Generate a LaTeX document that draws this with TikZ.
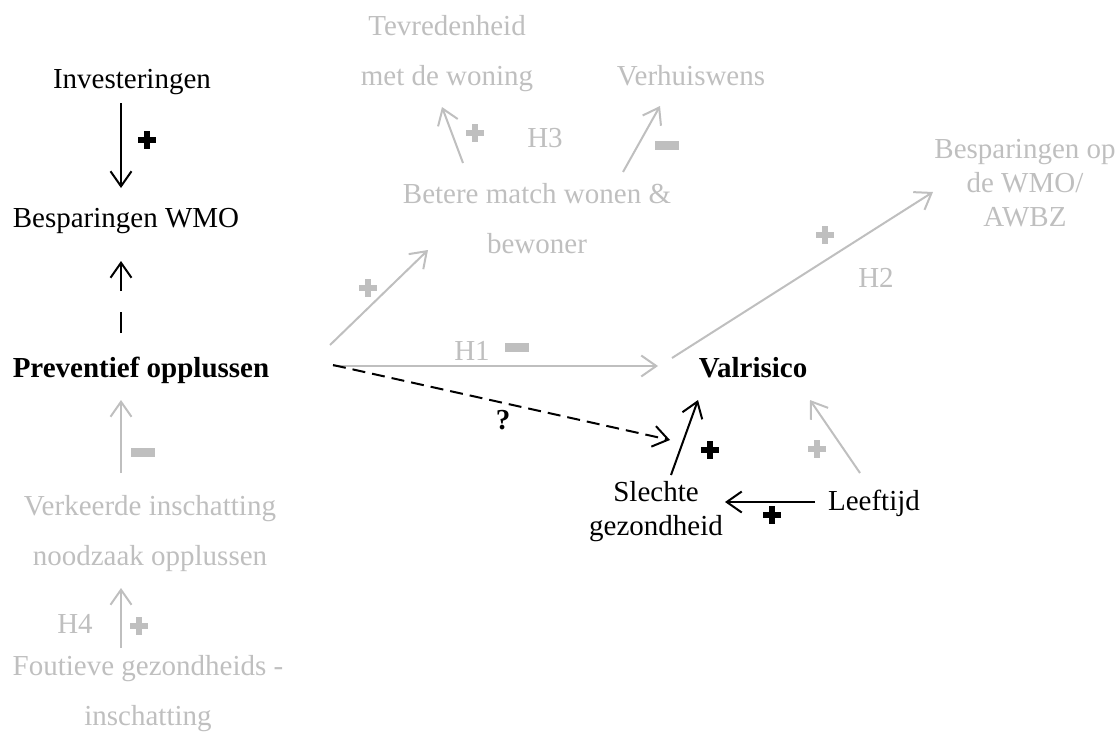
\documentclass[tikz,border=0pt]{standalone}
\usepackage{fontspec}
\setmainfont{Liberation Serif}
\usetikzlibrary{arrows.meta}
\definecolor{lg}{RGB}{191,191,191}
\begin{document}
\begin{tikzpicture}[x=1pt,y=-1pt,
  lbl/.style={inner sep=0pt, anchor=base, align=center, font=\fontsize{29}{50}\selectfont},
  lblg/.style={lbl, text=lg},
  tight/.style={font=\fontsize{29}{34}\selectfont},
  arr/.style={line width=2pt, -{Straight Barb[length=15pt,width=21pt]}},
  arrb/.style={arr, black},
  arrg/.style={arr, lg},
  dsh/.style={dash pattern=on 13pt off 7pt},
  plusmark/.pic={\fill (-9,-3) rectangle (9,3); \fill (-3,-9) rectangle (3,9);},
  minusmark/.pic={\fill (-12,-4.5) rectangle (12,4.5);}
]
\useasboundingbox (0,0) rectangle (1119,731);

% nodes (black); multi-line nodes are placed by the baseline of their last line
\node[lbl] (inv) at (132,88) {Investeringen};
\node[lbl] (wmo) at (126,227) {Besparingen WMO};
\node[lbl, font=\fontsize{29}{50}\selectfont\bfseries] (prev) at (141,377) {Preventief opplussen};
\node[lbl, font=\fontsize{29}{50}\selectfont\bfseries] (val) at (753,377) {Valrisico};
\node[lbl, tight] (slecht) at (656,535) {Slechte\\gezondheid};
\node[lbl] (leef) at (874,510) {Leeftijd};

% nodes (gray)
\node[lblg] (tevr) at (447,85) {Tevredenheid\\met de woning};
\node[lblg] (verh) at (691,85) {Verhuiswens};
\node[lblg] (bet) at (537,253) {Betere match wonen \&\\bewoner};
\node[lblg, tight] (besp) at (1025,226) {Besparingen op\\de WMO/\\AWBZ};
\node[lblg] (verk) at (150,565) {Verkeerde inschatting\\noodzaak opplussen};
\node[lblg] (fout) at (148,725) {Foutieve gezondheids -\\inschatting};

% hypothesis labels
\node[lblg] (h1) at (472,360) {H1};
\node[lblg] (h2) at (876,287) {H2};
\node[lblg] (h3) at (545,147) {H3};
\node[lblg] (h4) at (75,633) {H4};
\node[lbl, font=\fontsize{29}{50}\selectfont\bfseries] (q) at (503,429) {?};

% free end
\coordinate (modpt) at (670,440);

% connectors (xshift right, yshift up)
\draw[arrb] ([xshift=-11pt,yshift=-15pt]inv.base) -- ([xshift=-5pt,yshift=39pt]wmo.base);
\draw[arrb, dash pattern=on 21pt off 21pt on 40pt off 0pt] ([xshift=-20pt,yshift=44pt]prev.base) -- ([xshift=-5pt,yshift=-34pt]wmo.base);
\draw[arrg] ([xshift=-29pt,yshift=92pt]verk.base) -- ([xshift=-20pt,yshift=-23pt]prev.base);
\draw[arrg] ([xshift=-27pt,yshift=77pt]fout.base) -- ([xshift=-29pt,yshift=-23pt]verk.base);
\draw[arrg] ([xshift=-74pt,yshift=90pt]bet.base) -- ([xshift=-5pt,yshift=-22pt]tevr.base);
\draw[arrg] ([xshift=86pt,yshift=81pt]bet.base) -- ([xshift=-31pt,yshift=-21pt]verh.base);
\draw[arrg] ([xshift=189pt,yshift=32pt]prev.base) -- ([xshift=-109pt,yshift=3pt]bet.base);
\draw[arrg] ([xshift=192pt,yshift=11pt]prev.base) -- ([xshift=-95pt,yshift=11pt]val.base);
\draw[arrb, dsh] ([xshift=192pt,yshift=12pt]prev.base) -- (modpt);
\draw[arrg] ([xshift=-81pt,yshift=19pt]val.base) -- ([xshift=-92pt,yshift=34pt]besp.base);
\draw[arrb] ([xshift=15pt,yshift=60pt]slecht.base) -- ([xshift=-55pt,yshift=-23pt]val.base);
\draw[arrb] ([xshift=-59pt,yshift=8pt]leef.base) -- ([xshift=69pt,yshift=33pt]slecht.base);
\draw[arrg] ([xshift=-14pt,yshift=37pt]leef.base) -- ([xshift=57pt,yshift=-23pt]val.base);

% signs
\pic[black] at (147,140) {plusmark};
\pic[black] at (710,450) {plusmark};
\pic[black] at (772,515) {plusmark};
\pic[lg] at (475,133) {plusmark};
\pic[lg] at (368,288) {plusmark};
\pic[lg] at (825,235) {plusmark};
\pic[lg] at (817,449) {plusmark};
\pic[lg] at (139,626) {plusmark};
\pic[lg] at (667,145) {minusmark};
\pic[lg] at (517,347) {minusmark};
\pic[lg] at (143,452) {minusmark};
\end{tikzpicture}
\end{document}
